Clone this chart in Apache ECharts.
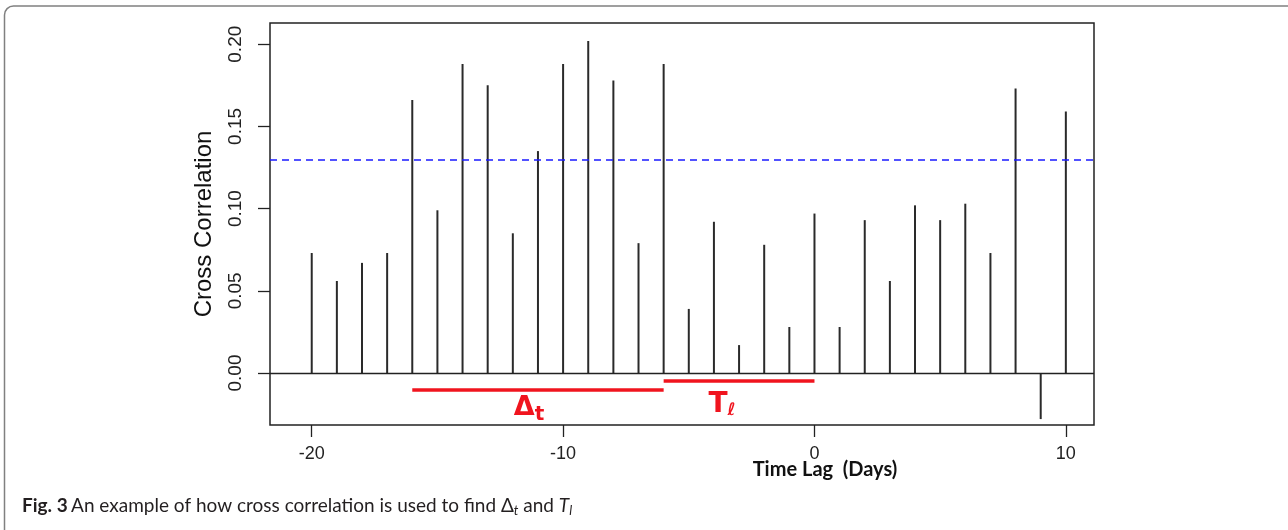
<!DOCTYPE html>
<html>
<head>
<meta charset="utf-8">
<script src="https://cdn.jsdelivr.net/npm/echarts@6/dist/echarts.min.js"></script>
<style>
html,body{margin:0;padding:0;background:#fff;}
#chart{width:1288px;height:530px;}
</style>
</head>
<body>
<div id="chart"></div>
<script>
// ---- data ----
const lags = [-20,-19,-18,-17,-16,-15,-14,-13,-12,-11,-10,-9,-8,-7,-6,-5,-4,-3,-2,-1,0,1,2,3,4,5,6,7,8,9,10];
const crossCorr = [0.073,0.056,0.067,0.073,0.166,0.099,0.188,0.175,0.085,0.135,0.188,0.202,0.178,0.079,0.188,0.039,0.092,0.017,0.078,0.028,0.097,0.028,0.093,0.056,0.102,0.093,0.103,0.073,0.173,-0.028,0.159];
const confLevel = 0.132;
const deltaRange = [-16, -6];
const tlRange = [-6, 0];
const xTickValues = [-20, -10, 0, 10];
const yTickValues = [0, 0.05, 0.10, 0.15, 0.20];

// ---- chart ----
const chart = echarts.init(document.getElementById('chart'), null, {renderer:'canvas'});
const RED = '#f0141e';
const deltaY = -0.0099, tlY = -0.0047;

const option = {
  animation:false,
  backgroundColor:'#fff',
  graphic:[
    {type:'rect', shape:{x:4.5, y:6, width:1400, height:700, r:9}, style:{fill:'none', stroke:'#808080', lineWidth:1.5}, silent:true},
    {type:'text', x:825, y:470, style:{text:'Time Lag  (Days)', font:'bold 20px Lato', fill:'#111', textAlign:'center', textVerticalAlign:'middle'}},
    {type:'text', x:22, y:506, style:{
      text:'{b|Fig. 3} {n|An example of how cross correlation is used to find }{n|\u0394}{it|t}{n| and }{itn|T}{it|l}',
      textVerticalAlign:'middle',
      rich:{
        b:{fontFamily:'Lato', fontWeight:'bold', fontSize:19, fill:'#231f20'},
        n:{fontFamily:'Lato', fontSize:19, fill:'#231f20'},
        itn:{fontFamily:'Lato', fontStyle:'italic', fontSize:19, fill:'#231f20'},
        it:{fontFamily:'Lato', fontStyle:'italic', fontSize:13, fill:'#231f20', padding:[9,0,0,0]}
      }
    }}
  ],
  grid:{left:270, top:23, right:194, bottom:105, show:true, borderColor:'#222', borderWidth:1.5, backgroundColor:'transparent'},
  xAxis:{
    type:'value', min:-21.66, max:11.12,
    axisLine:{show:false, onZero:false},
    splitLine:{show:false},
    axisTick:{show:true, length:12, lineStyle:{color:'#222', width:1.3}, customValues:xTickValues},
    axisLabel:{show:true, customValues:xTickValues, fontFamily:'Liberation Sans', fontSize:18, color:'#222', margin:20}
  },
  yAxis:{
    type:'value', min:-0.0316, max:0.2129,
    name:'Cross Correlation', nameLocation:'middle', nameGap:54, nameRotate:90,
    nameTextStyle:{fontFamily:'Liberation Sans', fontSize:24, color:'#111'},
    axisLine:{show:false, onZero:false},
    splitLine:{show:false},
    axisTick:{show:true, length:12, lineStyle:{color:'#222', width:1.3}, customValues:yTickValues},
    axisLabel:{show:true, customValues:yTickValues, rotate:90, fontFamily:'Liberation Sans', fontSize:19, color:'#222', margin:25,
      formatter:function(v){return v.toFixed(2);}}
  },
  series:[
    {
      type:'bar', barWidth:2,
      itemStyle:{color:'#2a2a2a'},
      data: lags.map((l,i)=>[l, crossCorr[i]]),
      markLine:{
        silent:true, symbol:'none', animation:false,
        data:[
          {yAxis:0, lineStyle:{color:'#222', width:1.3, type:'solid'}, label:{show:false}},
          {yAxis:confLevel, lineStyle:{color:'#1a1aff', width:1.5, type:[7,5]}, label:{show:false}},
          [
            {coord:[deltaRange[0], deltaY], lineStyle:{color:RED, width:3.5, type:'solid'},
             label:{show:true, position:'insideMiddleBottom', distance:[-8, 6], offset:[-9,-3], formatter:'{d|\u0394}{s|t}',
               rich:{d:{fontFamily:'DejaVu Sans', fontWeight:'bold', fontSize:27, color:RED}, s:{fontFamily:'DejaVu Sans', fontWeight:'bold', fontSize:20, color:RED, padding:[12,0,0,0]}}}},
            {coord:[deltaRange[1], deltaY]}
          ],
          [
            {coord:[tlRange[0], tlY], lineStyle:{color:RED, width:3.5, type:'solid'},
             label:{show:true, position:'insideMiddleBottom', distance:[-16, 6], offset:[-17,3], formatter:'{d|T}{s|\u2113}',
               rich:{d:{fontFamily:'DejaVu Sans', fontWeight:'bold', fontSize:28, color:RED}, s:{fontFamily:'DejaVu Sans', fontWeight:'bold', fontSize:17, fontStyle:'italic', color:RED, padding:[12,0,0,0]}}}},
            {coord:[tlRange[1], tlY]}
          ]
        ]
      }
    }
  ]
};
chart.setOption(option);
</script>
</body>
</html>
